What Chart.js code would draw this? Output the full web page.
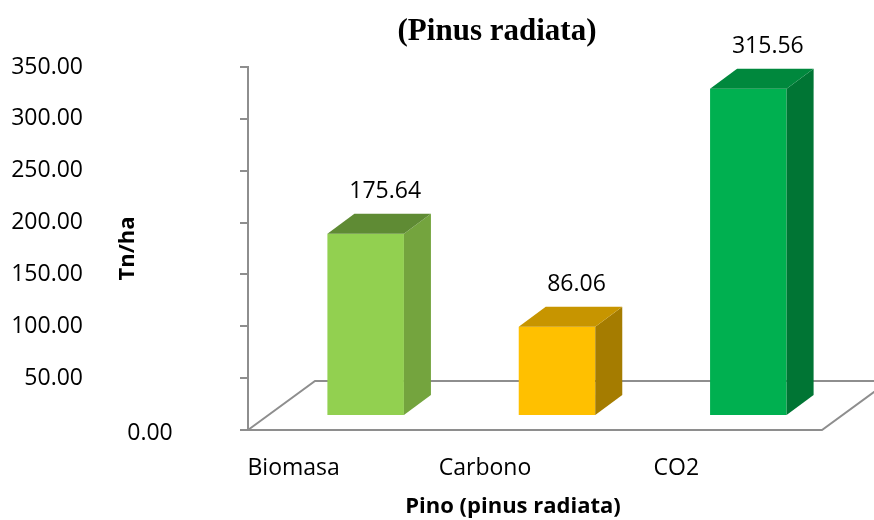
<!DOCTYPE html>
<html>
<head>
<meta charset="utf-8">
<script src="https://cdn.jsdelivr.net/npm/chart.js@4.4.1/dist/chart.umd.min.js"></script>
<style>
  html, body { margin: 0; padding: 0; background: #fff; }
  #wrap { width: 874px; height: 520px; }
</style>
</head>
<body>
<div id="wrap"><canvas id="pinoChart" width="874" height="520"></canvas></div>
<script>
const categories = ['Biomasa', 'Carbono', 'CO2'];
const valores = [175.64, 86.06, 315.56];
const yTicks = [0, 50, 100, 150, 200, 250, 300, 350];

const frontColors = ['#92D050', '#FFC000', '#00B050'];
const sideColors = ['#74A43E', '#A57C00', '#007534'];
const topColors = ['#5F8B34', '#C79500', '#00883D'];

const chartTitle = '(Pinus radiata)';
const xTitle = 'Pino (pinus radiata)';
const yTitle = 'Tn/ha';

// fake 3d: bar depth, shift of bars into the floor, floor depth
const depthX = 27, depthY = -20;
const shiftX = 22, shiftY = -14;
const floorX = 67, floorY = -49;
const axisGray = '#8E8E8E';

Chart.defaults.font.family = 'Open Sans';
Chart.defaults.color = '#000';

const bars3d = {
    id: 'bars3d',
    beforeDatasetsDraw(chart) {
        const ctx = chart.ctx, a = chart.chartArea;
        ctx.save();
        ctx.strokeStyle = axisGray;
        ctx.lineWidth = 2;
        ctx.beginPath();
        ctx.moveTo(a.left, a.bottom);
        ctx.lineTo(a.left + floorX, a.bottom + floorY);
        ctx.lineTo(chart.width, a.bottom + floorY);
        ctx.moveTo(a.left, a.bottom);
        ctx.lineTo(a.right, a.bottom);
        ctx.lineTo(a.right + floorX, a.bottom + floorY);
        ctx.stroke();
        ctx.restore();
        ctx.save();
        ctx.translate(shiftX, shiftY);
    },
    afterDatasetsDraw(chart) {
        const ctx = chart.ctx;
        const meta = chart.getDatasetMeta(0);
        meta.data.forEach((bar, i) => {
            const l = bar.x - bar.width / 2, r = bar.x + bar.width / 2;
            const t = bar.y, b = bar.base;
            ctx.fillStyle = sideColors[i];
            ctx.beginPath();
            ctx.moveTo(r, t);
            ctx.lineTo(r + depthX, t + depthY);
            ctx.lineTo(r + depthX, b + depthY);
            ctx.lineTo(r, b);
            ctx.closePath();
            ctx.fill();
            ctx.fillStyle = topColors[i];
            ctx.beginPath();
            ctx.moveTo(l, t);
            ctx.lineTo(l + depthX, t + depthY);
            ctx.lineTo(r + depthX, t + depthY);
            ctx.lineTo(r, t);
            ctx.closePath();
            ctx.fill();
            // value label above the box
            ctx.fillStyle = '#000';
            ctx.font = '23px "Open Sans"';
            ctx.textAlign = 'center';
            ctx.textBaseline = 'middle';
            ctx.fillText(valores[i].toFixed(2), bar.x + depthX / 2 + 6, t + depthY - 22);
        });
        ctx.restore();
    },
    afterDraw(chart) {
        const ctx = chart.ctx, a = chart.chartArea;
        const y = chart.scales.y;
        ctx.save();
        ctx.fillStyle = '#000';
        ctx.textAlign = 'center';
        ctx.textBaseline = 'middle';
        ctx.font = 'bold 31px "Liberation Serif"';
        ctx.fillText(chartTitle, a.left + 249, 32);
        ctx.font = 'bold 22px "Open Sans"';
        ctx.fillText(xTitle, a.left + 265, a.bottom + 77);
        ctx.font = '23px "Open Sans"';
        ctx.fillText((0).toFixed(2), a.left - 98, y.getPixelForValue(0) + 3);
        ctx.translate(a.left - 120, (a.top + a.bottom) / 2);
        ctx.rotate(-Math.PI / 2);
        ctx.font = 'bold 22px "Open Sans"';
        ctx.fillText(yTitle, 0, 0);
        ctx.restore();
    }
};

new Chart(document.getElementById('pinoChart'), {
    type: 'bar',
    data: {
        labels: categories,
        datasets: [
            {
                data: valores,
                backgroundColor: frontColors,
                barPercentage: 0.4,
                categoryPercentage: 1.0,
                clip: false
            }
        ]
    },
    options: {
        responsive: false,
        animation: false,
        layout: {
            padding: { left: 10, right: 52, top: 67, bottom: 0 }
        },
        plugins: {
            legend: { display: false },
            tooltip: { enabled: false },
            title: { display: false }
        },
        scales: {
            x: {
                grid: { display: false },
                border: { display: false },
                ticks: {
                    font: { size: 23 },
                    labelOffset: -50,
                    padding: 17,
                    maxRotation: 0
                },
                afterFit(s) { s.height = 90; }
            },
            y: {
                min: 0,
                max: 350,
                afterBuildTicks(s) { s.ticks = yTicks.map(v => ({ value: v })); },
                grid: {
                    drawOnChartArea: false,
                    drawTicks: true,
                    tickLength: 8,
                    color: axisGray,
                    lineWidth: 2
                },
                border: { display: true, color: axisGray, width: 2 },
                ticks: {
                    font: { size: 23 },
                    padding: 157,
                    callback: v => v === 0 ? '' : v.toFixed(2)
                },
                afterFit(s) {
                    // the wide label gap should not push the plot down
                    s.width = 238;
                    s.paddingTop = 0;
                    s.paddingBottom = 0;
                }
            }
        }
    },
    plugins: [bars3d]
});
</script>
</body>
</html>
